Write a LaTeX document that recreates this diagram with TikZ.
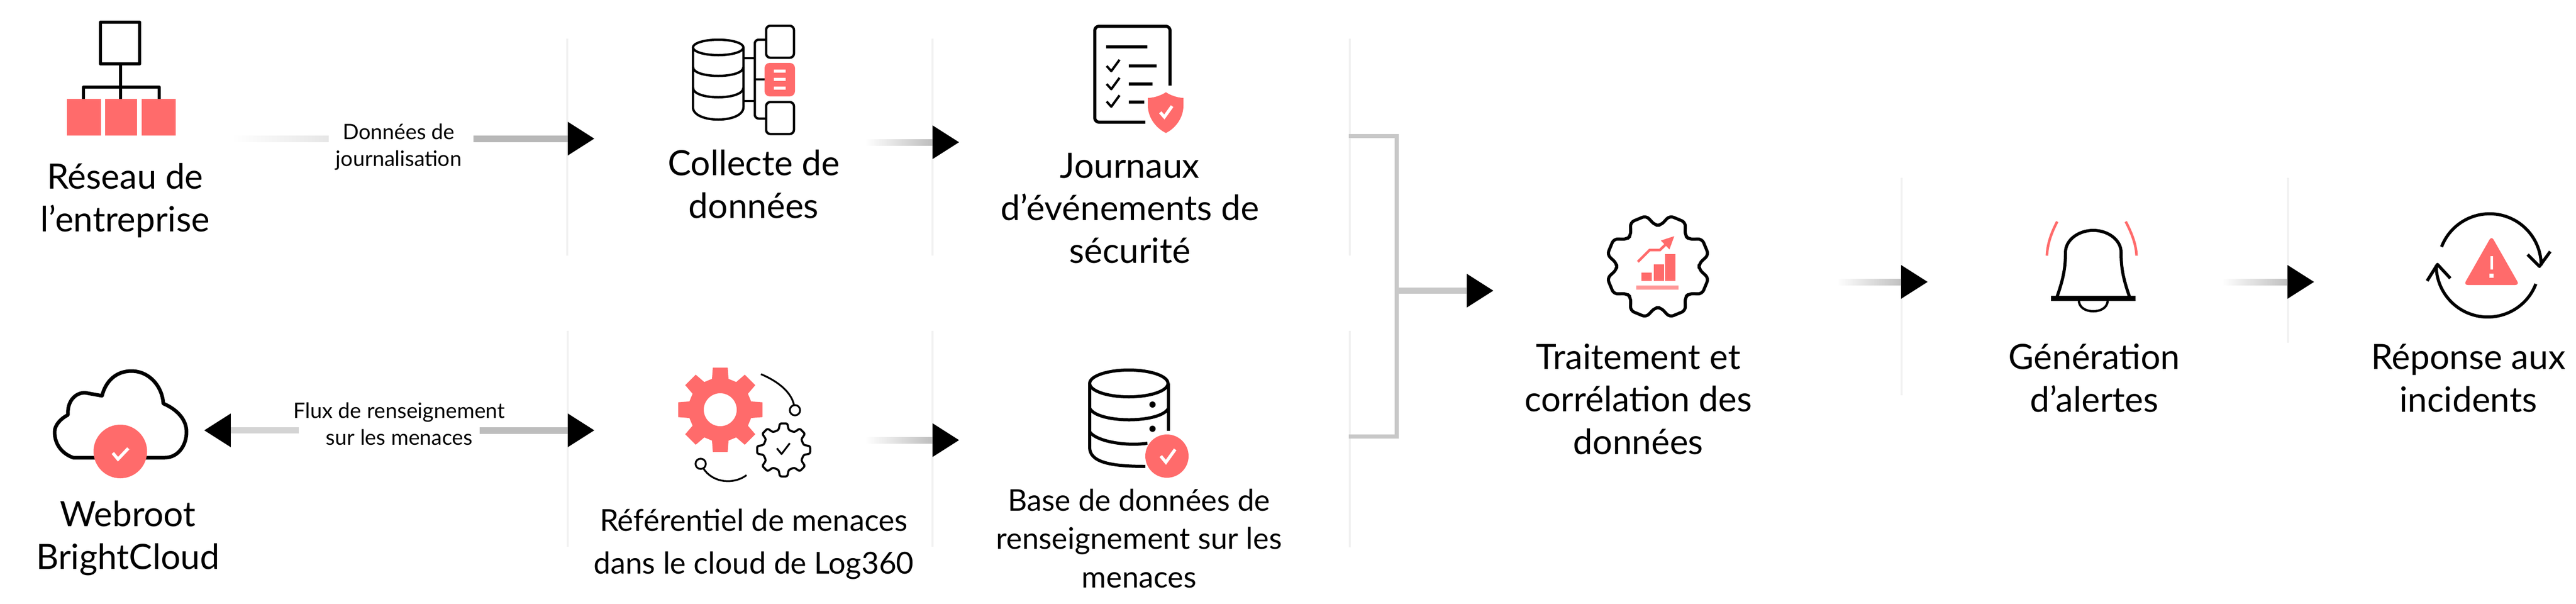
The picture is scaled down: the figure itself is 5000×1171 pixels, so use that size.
\documentclass[tikz,border=0pt]{standalone}
\usepackage{fontspec}
\setmainfont{Lato}
\usetikzlibrary{arrows.meta,calc}
\definecolor{coral}{HTML}{FF6B6B}
\definecolor{sep}{HTML}{F1F1F1}
\definecolor{bracketgray}{HTML}{C8C8C8}
\definecolor{shaftA}{HTML}{B8B8B8}
\definecolor{shaftB}{HTML}{BDBDBD}
\definecolor{shaftC}{HTML}{C0C0C0}
\definecolor{shaftD}{HTML}{D4D4D4}
\definecolor{shaftE}{HTML}{E6E6E6}
\tikzset{
  biglabel/.style={align=center,inner sep=0pt,anchor=base,font=\fontsize{38.5}{46.7}\selectfont},
  midlabel/.style={align=center,inner sep=0pt,anchor=base,font=\fontsize{33.3}{47}\selectfont},
  dblabel/.style={align=center,inner sep=0pt,anchor=base,font=\fontsize{33}{42.4}\selectfont},
  smalllabel/.style={align=center,inner sep=0pt,anchor=base,font=\fontsize{23.5}{29.6}\selectfont},
  sepline/.style={draw=sep,line width=0.08cm},
  ink/.style={draw=black,line width=0.12cm,line join=round},
  thinink/.style={draw=black,line width=0.09cm,line join=round},
  flowline/.style={line width=0.24cm,-{Triangle[length=1.04cm,width=1.24cm,color=black]}},
  bracketline/.style={draw=bracketgray,line width=0.15cm},
  redfill/.style={fill=coral,draw=none},
  whitecheck/.style={draw=white,line width=0.12cm},
}
% gradient connector: a shaded shaft over a line ending in a black head
\newcommand{\flow}[4]{%
  \draw[flowline,#4] (#1) -- (#2);
  \shade[left color=#3,right color=#4] ($(#1)+(0,-6)$) rectangle ($(#2)+(-52,6)$);
}
% center x, center y, Ro, Ri, half angle outer, half angle inner, offset, path command
\newcommand{\gearat}[8]{%
  \def\goff{#7}\def\gho{#5}\def\ghi{#6}%
  #8 ({#1+#4*cos(\goff-\ghi)},{#2+#4*sin(\goff-\ghi)})
  \foreach \a in {0,45,...,270}{
    -- ({#1+#3*cos(\a+\goff-\gho)},{#2+#3*sin(\a+\goff-\gho)})
    -- ({#1+#3*cos(\a+\goff+\gho)},{#2+#3*sin(\a+\goff+\gho)})
    -- ({#1+#4*cos(\a+\goff+\ghi)},{#2+#4*sin(\a+\goff+\ghi)})
    -- ({#1+#4*cos(\a+45+\goff-\ghi)},{#2+#4*sin(\a+45+\goff-\ghi)})
  }
  -- ({#1+#3*cos(315+\goff-\gho)},{#2+#3*sin(315+\goff-\gho)})
  -- ({#1+#3*cos(315+\goff+\gho)},{#2+#3*sin(315+\goff+\gho)})
  -- ({#1+#4*cos(315+\goff+\ghi)},{#2+#4*sin(315+\goff+\ghi)})
  -- cycle
}
\begin{document}
\begin{tikzpicture}[x=0.02cm,y=-0.02cm]
\useasboundingbox (0,0) rectangle (5000,1171);

% separators
\draw[sepline] (1101,75) -- (1101,496);
\draw[sepline] (1810,75) -- (1810,496);
\draw[sepline] (2620,75) -- (2620,496);
\draw[sepline] (1102,642) -- (1102,1061);
\draw[sepline] (1810,642) -- (1810,1061);
\draw[sepline] (2620,642) -- (2620,1062);
\draw[sepline] (3691,345) -- (3691,767);
\draw[sepline] (4441,345) -- (4441,665);

% free ends of connectors
\coordinate (a1r) at (919,269);  \coordinate (a1t) at (1154,269);
\coordinate (a2s) at (1680,276); \coordinate (a2t) at (1862,276);
\coordinate (b1l) at (580,835);  \coordinate (b1t) at (396,835);
\coordinate (b1r) at (931,835);  \coordinate (b1u) at (1154,835);
\coordinate (b2s) at (1680,854); \coordinate (b2t) at (1862,854);
\coordinate (brt) at (2618,264); \coordinate (brb) at (2618,847);
\coordinate (brm) at (2711,564); \coordinate (brh) at (2899,564);
\coordinate (c1s) at (3565,547); \coordinate (c1t) at (3742,547);
\coordinate (c2s) at (4312,547); \coordinate (c2t) at (4492,547);

% connectors
\shade[left color=white,right color=shaftE] (450,263) rectangle (638,275);
\flow{a1r}{a1t}{shaftA}{shaftA}
\flow{a2s}{a2t}{white}{shaftB}
\draw[flowline,shaftD] (b1l) -- (b1t);
\flow{b1r}{b1u}{shaftB}{shaftB}
\flow{b2s}{b2t}{white}{shaftB}
\draw[bracketline] (brt) -- (2711,264) -- (2711,847) -- (brb);
\draw[flowline,bracketgray] (brm) -- (brh);
\flow{c1s}{c1t}{white}{shaftC}
\flow{c2s}{c2t}{white}{shaftC}

% network icon
\draw[ink] (195,43) rectangle (271,124);
\draw[ink] (234,124) -- (234,194) (162,194) -- (162,169) -- (309,169) -- (309,194);
\fill[redfill] (130,192) rectangle (196,263);
\fill[redfill] (204,192) rectangle (266,263);
\fill[redfill] (275,192) rectangle (341,263);

% data collection icon
\draw[thinink] (1394,92) ellipse [x radius=49,y radius=15];
\draw[thinink] (1345,92) -- (1345,208) .. controls (1345,240) and (1443,240) .. (1443,208) -- (1443,92);
\draw[thinink] (1345,130) .. controls (1345,153) and (1443,153) .. (1443,130);
\draw[thinink] (1345,170) .. controls (1345,195) and (1443,195) .. (1443,170);
\draw[thinink,rounded corners=0.15cm] (1487,77) -- (1465,77) -- (1465,230) -- (1487,230);
\draw[thinink] (1443,113) -- (1465,113) (1443,196) -- (1465,196) (1465,154) -- (1487,154);
\draw[thinink,rounded corners=0.16cm] (1487,50) rectangle (1541,112);
\draw[thinink,rounded corners=0.16cm] (1487,198) rectangle (1541,260);
\fill[redfill,rounded corners=0.2cm] (1484,122) rectangle (1543,187);
\foreach \yy in {138,154,171}{\fill[white] (1502,\yy-3) rectangle (1525,\yy+3);}

% event log icon
\draw[ink,rounded corners=0.16cm] (2223,237) -- (2125,237) -- (2125,51) -- (2271,51) -- (2271,166);
\draw[ink] (2147,91) -- (2227,91);
\draw[ink] (2191,128) -- (2245,128) (2191,163) -- (2237,163) (2191,198) -- (2221,198);
\foreach \yy in {128,163,197}{\draw[thinink] (2148,\yy) -- (2157,\yy+10) -- (2173,\yy-12);}
\fill[redfill] (2263,179) .. controls (2275,187) and (2290,190) .. (2297,190) -- (2297,205) .. controls (2297,230) and (2280,250) .. (2263,258) .. controls (2246,250) and (2228,230) .. (2228,205) -- (2228,190) .. controls (2236,190) and (2251,187) .. (2263,179) -- cycle;
\draw[whitecheck] (2252,218) -- (2260,227) -- (2275,206);

% cloud icon
\draw[ink,line width=0.14cm] (142,888) .. controls (120,880) and (106,862) .. (106,838) .. controls (106,825) and (118,812) .. (132,805) .. controls (130,780) and (145,762) .. (165,762) -- (198,768) .. controls (205,740) and (225,720) .. (255,720) .. controls (290,720) and (315,750) .. (317,783) .. controls (345,795) and (362,815) .. (362,838) .. controls (362,865) and (345,888) .. (320,888) -- cycle;
\fill[redfill] (233.5,876) circle [radius=52];
\draw[whitecheck] (219,879) -- (229,891) -- (249,870);

% threat repository icon
\gearat{1398}{795}{83}{62}{10}{15}{0}{\path[redfill,even odd rule]}
  (1398,795) circle [radius=32];
\gearat{1521}{873}{52}{40}{8}{14}{0}{\draw[thinink,rounded corners=0.06cm,line width=0.08cm]};
\draw[thinink,line width=0.07cm] (1508,870) -- (1517,881) -- (1533,860);
\draw[thinink,line width=0.07cm] (1477,726) .. controls (1510,740) and (1535,760) .. (1541,785);
\draw[thinink,line width=0.07cm] (1543,796) circle [radius=10];
\draw[thinink,line width=0.07cm] (1360,900) circle [radius=10];
\draw[thinink,line width=0.07cm] (1366,910) .. controls (1385,938) and (1425,940) .. (1449,922);

% threat database icon
\draw[ink] (2191,744) ellipse [x radius=76,y radius=26];
\draw[ink] (2115,744) -- (2115,868) .. controls (2115,895) and (2150,905) .. (2223,905);
\draw[ink] (2268,744) -- (2268,836);
\draw[ink] (2115,792) .. controls (2130,822) and (2253,822) .. (2268,792);
\draw[ink] (2115,838) .. controls (2130,858) and (2190,866) .. (2227,860);
\fill[black] (2237,785) circle [radius=6] (2237,832) circle [radius=6];
\fill[redfill] (2265,885) circle [radius=42];
\draw[whitecheck] (2253,885) -- (2263,897) -- (2281,872);

% processing gear icon
\gearat{3218}{517}{101}{80}{9.5}{18.5}{22.5}{\draw[ink,rounded corners=0.16cm]};
\draw[coral,line width=0.1cm,-{Triangle[length=0.5cm,width=0.45cm]}] (3179,508) -- (3202,485) -- (3222,485) -- (3250,458);
\fill[redfill] (3186,529) rectangle (3206,545);
\fill[redfill] (3210,513) rectangle (3230,545);
\fill[redfill] (3232,493) rectangle (3252,545);
\fill[coral!70] (3176,554) rectangle (3258,562);

% bell icon
\draw[ink] (3993,575) .. controls (4005,540) and (4009,520) .. (4009,490) .. controls (4009,465) and (4035,447) .. (4063,447) .. controls (4091,447) and (4117,465) .. (4117,490) .. controls (4117,520) and (4121,540) .. (4133,575);
\fill[black] (3981,574) rectangle (4145,584);
\draw[thinink] (4035,584) .. controls (4036,598) and (4050,604) .. (4063,604) .. controls (4076,604) and (4090,598) .. (4091,584);
\draw[coral,line width=0.1cm] (3993,430) .. controls (3980,455) and (3974,475) .. (3973,496);
\draw[coral,line width=0.1cm] (4126,430) .. controls (4139,455) and (4146,475) .. (4147,496);

% incident response icon
\draw[ink] (4739,479) arc [start angle=201,end angle=360,radius=100];
\draw[ink] (4906,494) -- (4929,517) -- (4950,488);
\draw[ink] (4922,551) arc [start angle=21,end angle=180,radius=100];
\draw[ink] (4711,545) -- (4731,513) -- (4756,540);
\fill[redfill,rounded corners=0.16cm] (4836,458) -- (4890,553) -- (4782,553) -- cycle;
\fill[white] (4833.5,497) rectangle (4838.5,523);
\fill[white] (4832,531) rectangle (4840,539);

% labels (a node's base is the baseline of its last line)
\node[biglabel] (reseau) at (243,449) {Réseau de\\l’entreprise};
\node[smalllabel] (logs) at (774,322.5) {Données de\\journalisation};
\node[biglabel] (collecte) at (1463,423) {Collecte de\\données};
\node[biglabel] (journaux) at (2193,510) {Journaux\\d’événements de\\sécurité};
\node[biglabel] (webroot) at (248,1104) {Webroot\\BrightCloud};
\node[smalllabel] (flux) at (775,863) {Flux de renseignement\\sur les menaces};
\node[midlabel] (ref) at (1463,1113.5) {Référentiel de menaces\\dans le cloud de Log360};
\node[dblabel] (base) at (2211,1140) {Base de données de\\renseignement sur les\\menaces};
\node[biglabel] (trait) at (3180,881) {Traitement et\\corrélation des\\données};
\node[biglabel] (gen) at (4065,799) {Génération\\d’alertes};
\node[biglabel] (rep) at (4791,799) {Réponse aux\\incidents};
\end{tikzpicture}
\end{document}
